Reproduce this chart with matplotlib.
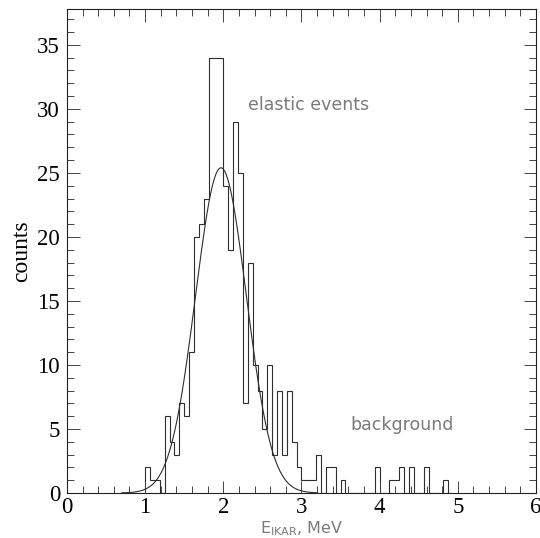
import numpy as np
import matplotlib
matplotlib.use("Agg")
import matplotlib.pyplot as plt
from matplotlib.ticker import MultipleLocator

# ---- data ----
bin_start = 1.0          # MeV, left edge of first bin
bin_width = 0.0625       # MeV
counts = [2, 1, 1, 0, 6, 4, 3, 7, 6, 11,
          20, 21, 23, 34, 34, 34, 24, 19, 29, 25,
          7, 18, 10, 8, 5, 10, 3, 8, 3, 8,
          4, 2, 1, 1, 1, 3, 0, 2, 2, 0,
          1, 0, 0, 0, 0, 0, 0, 2, 0, 0,
          1, 1, 2, 0, 2, 0, 0, 2, 0, 0,
          0, 1]
fit_amp = 25.4
fit_mean = 1.97
fit_sigma = 0.325
fit_range = (0.7, 3.2)
x_ticks = [0, 1, 2, 3, 4, 5, 6]
y_ticks = [0, 5, 10, 15, 20, 25, 30, 35]

edges = bin_start + bin_width * np.arange(len(counts) + 1)
xf = np.linspace(fit_range[0], fit_range[1], 400)
yf = fit_amp * np.exp(-0.5 * ((xf - fit_mean) / fit_sigma) ** 2)

fig = plt.figure(figsize=(5.4, 5.38), dpi=100)
ax = fig.add_axes([0.124, 0.0836, 0.8686, 0.8997])

lc = '#2e2e2e'
ax.stairs(counts, edges, color=lc, linewidth=0.8, baseline=0)
ax.plot(xf, yf, color=lc, linewidth=0.8)

ax.set_xlim(0, 6)
ax.set_ylim(0, 37.8)
ax.set_xticks(x_ticks)
ax.set_yticks(y_ticks)
ax.xaxis.set_minor_locator(MultipleLocator(0.2))
ax.yaxis.set_minor_locator(MultipleLocator(1))
ax.tick_params(which='both', direction='in', top=True, right=True,
               color='#444444', width=0.7)
ax.tick_params(which='major', length=9, labelsize=16.5, pad=3)
ax.tick_params(which='minor', length=5)
ax.tick_params(axis='y', which='major', pad=5)
for lab in ax.get_xticklabels() + ax.get_yticklabels():
    lab.set_family('Liberation Serif')
for sp in ax.spines.values():
    sp.set_linewidth(0.8)
    sp.set_color('#222222')

ax.set_ylabel('counts', family='Liberation Serif', fontsize=17, labelpad=4)
ax.set_xlabel(r'E$_{\mathregular{IKAR}}$, MeV', fontsize=11.5, color='#7a7a7a',
              labelpad=1)

ax.text(2.31, 30.3, 'elastic events', fontsize=12.5, color='#7a7a7a',
        va='center', ha='left')
ax.text(3.63, 5.3, 'background', fontsize=12.5, color='#7a7a7a',
        va='center', ha='left')

fig.savefig('out.png', dpi=100)
